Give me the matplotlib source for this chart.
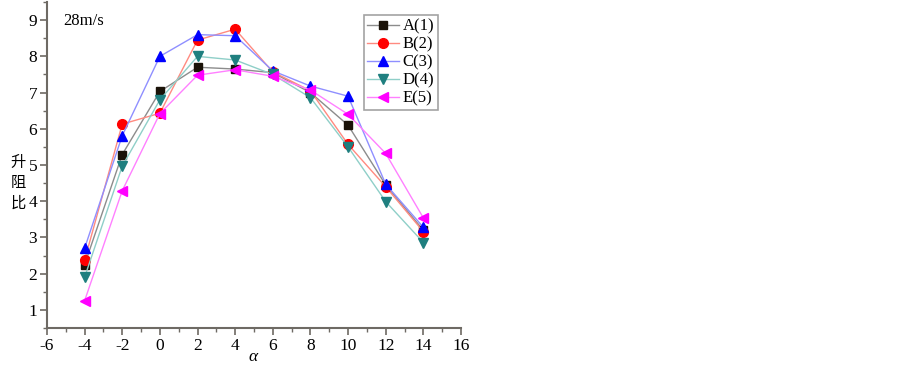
import matplotlib
matplotlib.use("Agg")
import matplotlib.pyplot as plt
from matplotlib.ticker import MultipleLocator

plt.rcParams['font.family'] = ['Liberation Serif', 'Noto Sans CJK SC', 'DejaVu Sans']
plt.rcParams['axes.unicode_minus'] = False

alpha = [-4, -2, 0, 2, 4, 6, 8, 10, 12, 14]
A = [2.25, 5.29, 7.03, 7.70, 7.65, 7.55, 7.00, 6.10, 4.45, 3.20]
B = [2.37, 6.13, 6.43, 8.45, 8.75, 7.57, 7.05, 5.57, 4.40, 3.16]
C = [2.70, 5.81, 8.00, 8.60, 8.57, 7.60, 7.18, 6.90, 4.47, 3.28]
D = [1.90, 4.97, 6.80, 8.00, 7.90, 7.50, 6.86, 5.50, 3.99, 2.86]
E = [1.25, 4.29, 6.42, 7.48, 7.63, 7.45, 7.07, 6.40, 5.32, 3.54]
labels = ["A(1)", "B(2)", "C(3)", "D(4)", "E(5)"]

series = [A, B, C, D, E]
markers = ['s', 'o', '^', 'v', '<']
mcolors = ['#1a1208', '#ff0000', '#0000ff', '#1f7f7f', '#ff00ff']
lcolors = ['#8c8c8c', '#ff8a80', '#8f8fff', '#8fcfc8', '#ff80ff']
msizes = [6, 7, 7, 7, 7]

fig = plt.figure(figsize=(9.03, 3.65), dpi=100)
ax = fig.add_axes([0.052, 0.1014, 0.4585, 0.893])

for s, m, mc, lc, ms, lab in zip(series, markers, mcolors, lcolors, msizes, labels):
    ax.plot(alpha, s, color=lc, lw=1.0, marker=m, markersize=ms,
            markerfacecolor=mc, markeredgecolor=mc, label=lab)

ax.set_xlim(-6, 16)
ax.set_ylim(0.5, 9.5)
ax.xaxis.set_major_locator(MultipleLocator(2))
ax.xaxis.set_minor_locator(MultipleLocator(1))
ax.yaxis.set_major_locator(MultipleLocator(1))
ax.yaxis.set_minor_locator(MultipleLocator(0.5))
ax.set_yticks([1, 2, 3, 4, 5, 6, 7, 8, 9])

for sp in ['top', 'right']:
    ax.spines[sp].set_visible(False)
for sp in ['left', 'bottom']:
    ax.spines[sp].set_color('#6e6a64')
    ax.spines[sp].set_linewidth(1.5)

ax.tick_params(axis='both', which='major', direction='out', length=5, width=1.2,
               color='#6e6a64', labelsize=12.5, pad=2)
ax.tick_params(axis='both', which='minor', direction='out', length=3, width=1.0,
               color='#6e6a64')

fig.text(253 / 903, 1 - 357 / 365, "α", ha='center', va='center', fontsize=12.5,
         style='italic')
fig.text(0.0205, 0.5, "升\n阻\n比", ha='center', va='center', fontsize=11,
         family=['Noto Sans CJK SC'], linespacing=1.25)

ax.text(0.04, 0.965, "28m/s", transform=ax.transAxes, fontsize=12,
        ha='left', va='top')

leg = ax.legend(loc='upper left', bbox_to_anchor=(0.765, 0.96), fontsize=12,
                frameon=True, fancybox=False, handlelength=1.9, handletextpad=0.25,
                borderpad=0.2, labelspacing=0.12, borderaxespad=0)
leg.get_frame().set_edgecolor('#8c8c8c')
leg.get_frame().set_linewidth(1.2)

fig.savefig("out.png", dpi=100)
